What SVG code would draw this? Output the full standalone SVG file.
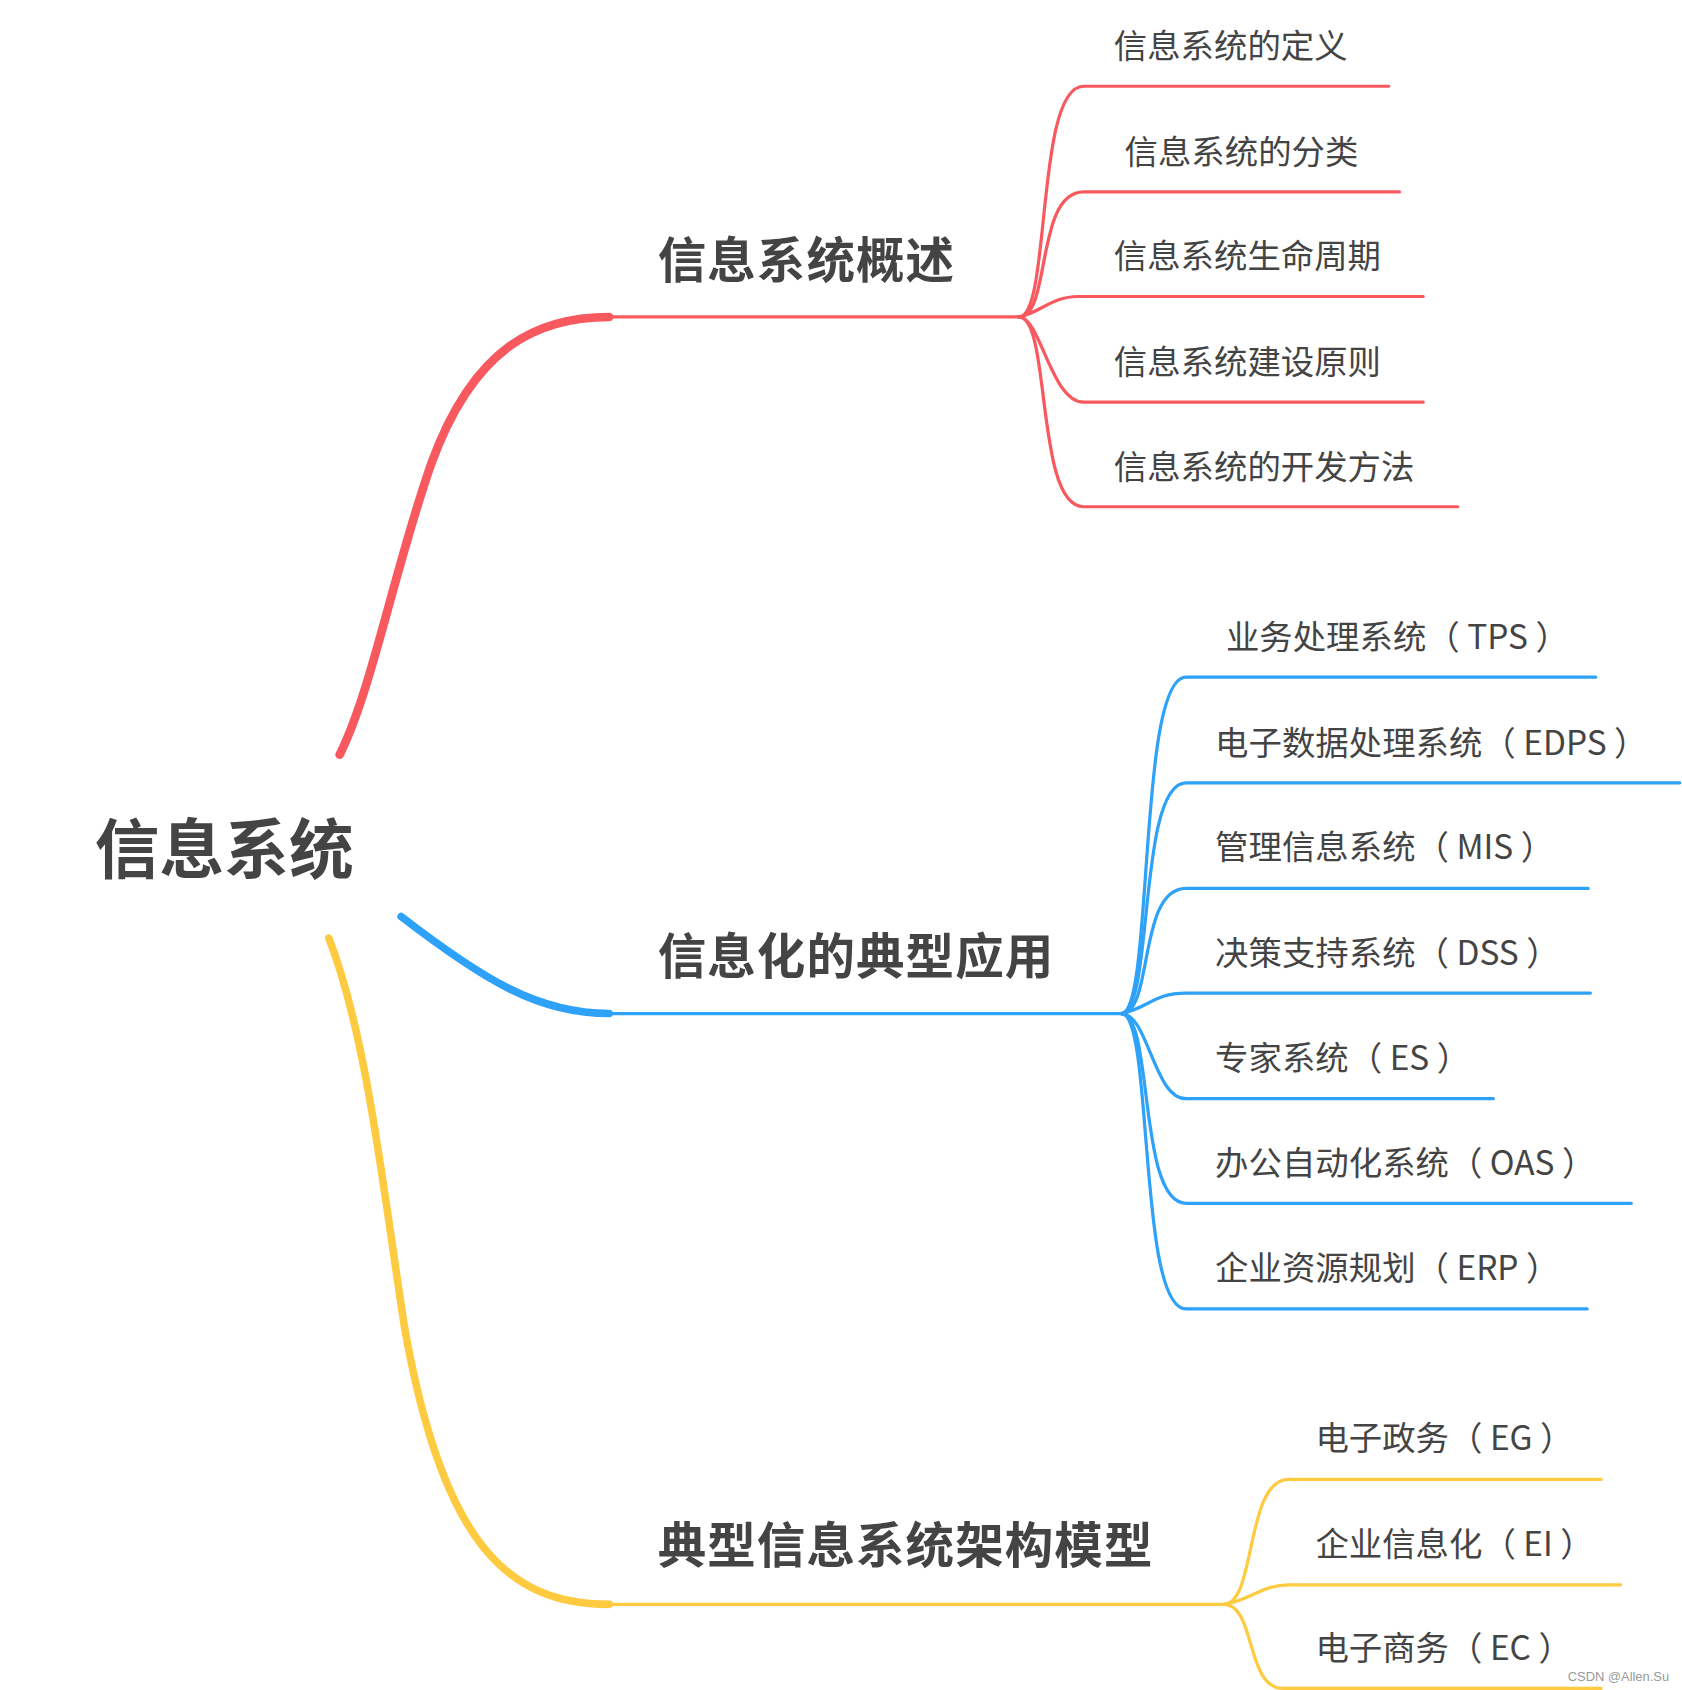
<svg xmlns="http://www.w3.org/2000/svg" width="1682" height="1690" viewBox="0 0 1682 1690">
<style>
text{font-family:"Noto Sans CJK SC","Noto Sans",sans-serif;fill:#444}
.root{font-size:60px;font-weight:bold}
.main{font-size:45px;font-weight:bold;letter-spacing:1px}
.leaf{font-size:31px}
.r{stroke:#f7595f;fill:none;stroke-width:3}
.b{stroke:#2ea1f8;fill:none;stroke-width:3}
.y{stroke:#fdca40;fill:none;stroke-width:3}
</style>
<rect width="1682" height="1690" fill="#fff"/>
<g transform="scale(1.0782)">
<g id="connectors" stroke-linecap="round">
<path d="M315,700 C345,640 365,530 400,430 C440,320 500,294 565,294" stroke="#f7595f" stroke-width="8" fill="none"/>
<path class="r" d="M565,294 H945"/>
<path class="r" d="M945,294 C975,294 960,80 1005,80 H1288"/>
<path class="r" d="M945,294 C975,294 960,178 1005,178 H1298"/>
<path class="r" d="M945,294 C965,290 975,275 1000,275 H1320"/>
<path class="r" d="M945,294 C965,294 975,373 1005,373 H1320"/>
<path class="r" d="M945,294 C975,294 960,470 1005,470 H1352"/>
<path d="M372,850 C450,910 500,940 565,940" stroke="#2ea1f8" stroke-width="7" fill="none"/>
<path class="b" d="M565,940 H1040"/>
<path class="b" d="M1040,940 C1070,940 1055,628 1100,628 H1480"/>
<path class="b" d="M1040,940 C1070,940 1055,726 1100,726 H1558"/>
<path class="b" d="M1040,940 C1070,940 1055,824 1100,824 H1473"/>
<path class="b" d="M1040,940 C1065,935 1070,921 1100,921 H1475"/>
<path class="b" d="M1040,940 C1065,940 1070,1019 1100,1019 H1385"/>
<path class="b" d="M1040,940 C1070,940 1055,1116 1100,1116 H1513"/>
<path class="b" d="M1040,940 C1070,940 1055,1214 1100,1214 H1472"/>
<path d="M305,870 C340,960 355,1100 375,1230 C410,1430 470,1488 565,1488" stroke="#fdca40" stroke-width="7" fill="none"/>
<path class="y" d="M565,1488 H1135"/>
<path class="y" d="M1135,1488 C1165,1488 1155,1372 1195,1372 H1485"/>
<path class="y" d="M1135,1488 C1160,1484 1170,1470 1195,1470 H1503"/>
<path class="y" d="M1135,1488 C1165,1488 1155,1566 1190,1566 H1485"/>
</g>
<g id="root"><text class="root" x="88" y="810">信息系统</text></g>
<g id="n1"><text class="main" x="610" y="258">信息系统概述</text></g>
<g id="n1a"><text class="leaf" x="1033" y="54">信息系统的定义</text></g>
<g id="n1b"><text class="leaf" x="1043" y="152">信息系统的分类</text></g>
<g id="n1c"><text class="leaf" x="1033" y="249">信息系统生命周期</text></g>
<g id="n1d"><text class="leaf" x="1033" y="347">信息系统建设原则</text></g>
<g id="n1e"><text class="leaf" x="1033" y="444">信息系统的开发方法</text></g>
<g id="n2"><text class="main" x="610" y="903">信息化的典型应用</text></g>
<g id="n2a"><text class="leaf" x="1137" y="602">业务处理系统（ TPS ）</text></g>
<g id="n2b"><text class="leaf" x="1127" y="700">电子数据处理系统（ EDPS ）</text></g>
<g id="n2c"><text class="leaf" x="1127" y="797">管理信息系统（ MIS ）</text></g>
<g id="n2d"><text class="leaf" x="1127" y="895">决策支持系统（ DSS ）</text></g>
<g id="n2e"><text class="leaf" x="1127" y="992">专家系统（ ES ）</text></g>
<g id="n2f"><text class="leaf" x="1127" y="1090">办公自动化系统（ OAS ）</text></g>
<g id="n2g"><text class="leaf" x="1127" y="1187">企业资源规划（ ERP ）</text></g>
<g id="n3"><text class="main" x="610" y="1450">典型信息系统架构模型</text></g>
<g id="n3a"><text class="leaf" x="1220" y="1345">电子政务（ EG ）</text></g>
<g id="n3b"><text class="leaf" x="1220" y="1443">企业信息化（ EI ）</text></g>
<g id="n3c"><text class="leaf" x="1220" y="1540">电子商务（ EC ）</text></g>
<text x="1454" y="1559" style="font-family:'Liberation Sans',sans-serif;font-size:12px;fill:#999">CSDN @Allen.Su</text>
</g>
</svg>
